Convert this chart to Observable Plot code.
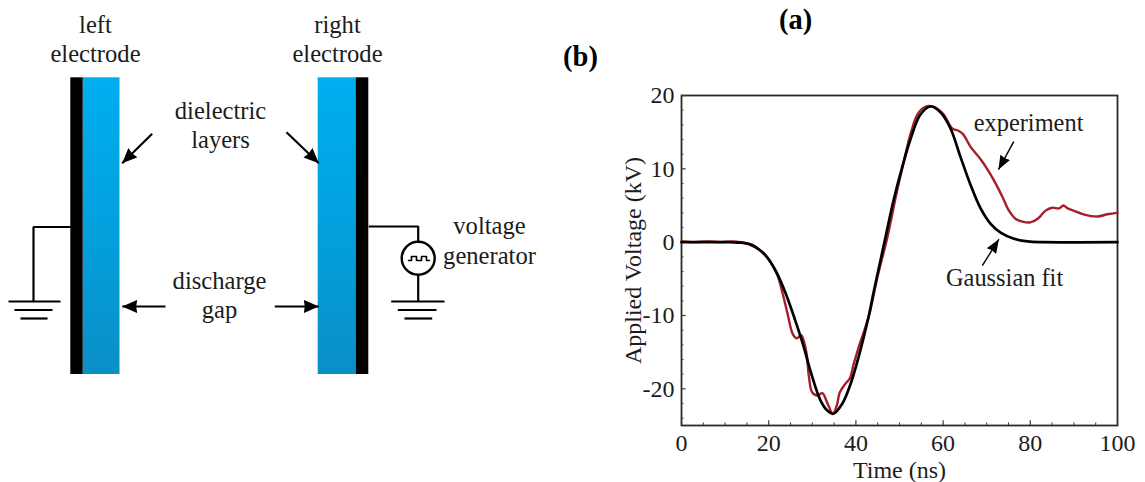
<!DOCTYPE html>
<html>
<head>
<meta charset="utf-8">
<script src="https://cdn.jsdelivr.net/npm/d3@7"></script>
<script src="https://cdn.jsdelivr.net/npm/@observablehq/plot@0.6"></script>
<style>
html,body{margin:0;padding:0;background:#fff;}
#wrap{display:flex;width:1145px;height:482px;overflow:hidden;}
svg{display:block;background:#fff;}
</style>
</head>
<body>
<div id="wrap"></div>
<script>
// ---------- chart (b) data ----------
const gaussianTime = [0,10,13,15.8,18,19.3,21.6,23.9,26.1,28,29.6,31.9,33.5,34.8,36.9,38.8,40.6,42.9,44,45.6,46.8,48.6,50.7,52.5,54.8,57.1,59.4,61.7,64,66.3,68.6,70.9,73.2,76.1,79.4,83,100];
const gaussianVolt = [0,0,-0.05,-0.3,-1.1,-1.8,-3.9,-7,-10.7,-14.2,-17.6,-21.6,-23,-23.4,-22,-19.3,-15.7,-10.2,-7,-2.6,0.7,5.6,10.4,14,17.4,18.5,17.7,15.5,11.6,7.8,4.6,2.5,1.3,0.5,0.1,0,0];
const experimentTime = [0,3,6,9,12,15,18,20.4,22,23.2,24.3,25.5,26.4,27.5,28,28.7,29.2,30,31.2,32.3,33.5,34.7,35.6,36.3,37.6,38.6,39.5,40.6,43,45,47.2,49.3,51,52.5,54.2,56,57.6,60,62.1,63.5,64.6,66.3,68.6,70.2,71.6,73.6,75,76.6,78.2,80,81.7,83.5,85,86.6,87.6,88.6,89.9,92.2,95.4,97.7,100];
const experimentVolt = [0.1,0,0.1,0,0.1,-0.2,-1.1,-2.7,-4.5,-7,-9.7,-12.5,-13.1,-12.7,-13.4,-15.2,-18.2,-20.5,-20.9,-20.6,-22,-23.4,-22.3,-20.5,-19.3,-18.6,-16.6,-14.4,-10,-4.6,0.6,6.6,11,14.7,17.5,18.5,18.5,17.5,15.5,15.2,14.7,13,11.3,9.9,8.5,6.2,4.4,3.2,2.8,2.7,3.2,4.3,4.7,4.6,5,4.6,4.3,3.8,3.5,3.8,4];
const xMajor = [0,20,40,60,80,100];
const xMinor = [5,10,15,25,30,35,45,50,55,65,70,75,85,90,95];
const yMajor = [-20,-10,0,10,20];
const yMinor = [-24,-22,-18,-16,-14,-12,-8,-6,-4,-2,2,4,6,8,12,14,16,18];
const chartNotes = [
  {t:"experiment", x:79.6, y:15.1},
  {t:"Gaussian fit", x:74.1, y:-6}
];
const chartArrows = [
  {x1:76.2, y1:13.7, x2:72.7, y2:9.9},
  {x1:69, y1:-3.2, x2:72.8, y2:0.4}
];
const panelA = [{t:"(a)", x:26.2, y:29.1}];

// ---------- schematic (a) geometry, in diagram units ----------
const electrodes = [{x1:70.3,x2:82.7},{x1:355.7,x2:368.3}];
const layers = [{x1:82.7,x2:119.5},{x1:317.7,x2:355.7}];
const slabTop = 77.3, slabBottom = 374;
const wires = [
  {k:"l",p:[[70.3,226.5],[33,226.5],[33,301]]},
  {k:"r",p:[[368.3,226],[417.7,226],[417.7,240.5]]},
  {k:"r2",p:[[417.7,275],[417.7,301]]},
  {k:"g1",p:[[8,301],[60,301]]},
  {k:"g2",p:[[14,309.5],[52,309.5]]},
  {k:"g3",p:[[20,318],[47,318]]},
  {k:"g4",p:[[390.7,301],[444,301]]},
  {k:"g5",p:[[397.3,309.5],[436,309.5]]},
  {k:"g6",p:[[404,318],[431.7,318]]}
];
const pulse = [[408,260],[411,260],[411,256],[416,256],[416,260],[421,260],[421,256],[426,256],[426,260],[429,260]];
const generator = [{x:417.7,y:257.7}];
const schematicArrows = [
  {x1:151.7,y1:133.3,x2:121.7,y2:162.7},
  {x1:165,y1:306,x2:121.7,y2:306},
  {x1:286,y1:131.7,x2:318.3,y2:162.7},
  {x1:274.3,y1:306,x2:318.3,y2:306}
];
const labels = [
  {t:"left",x:95,y:32},{t:"electrode",x:95,y:61},
  {t:"right",x:337,y:32},{t:"electrode",x:337,y:61},
  {t:"dielectric",x:220,y:118},{t:"layers",x:220,y:147},
  {t:"discharge",x:219,y:288},{t:"gap",x:219,y:317},
  {t:"voltage",x:489,y:233},{t:"generator",x:489,y:263}
];
const panelB = [{t:"(b)",x:580,y:65}];

// ---------- helpers ----------
const serif = "Liberation Serif";
const ink = "#1c1c1c";
const wireRows = wires.flatMap(w => w.p.map(([x,y]) => ({k:w.k,x,y})));
const pulseRows = pulse.map(([x,y]) => ({x,y}));
function arrowHead(size, half, notch) {
  return () => {
    const id = "ah" + Math.random().toString(36).slice(2,9);
    const m = document.createElementNS("http://www.w3.org/2000/svg","marker");
    m.setAttribute("id", id);
    m.setAttribute("viewBox", `${-size} ${-half} ${size} ${2*half}`);
    m.setAttribute("markerUnits","userSpaceOnUse");
    m.setAttribute("markerWidth", size);
    m.setAttribute("markerHeight", 2*half);
    m.setAttribute("refX", 0);
    m.setAttribute("refY", 0);
    m.setAttribute("orient","auto");
    const p = document.createElementNS("http://www.w3.org/2000/svg","path");
    p.setAttribute("d", `M0,0L${-size},${-half}L${-size+notch},0L${-size},${half}Z`);
    p.setAttribute("fill", "#000");
    p.setAttribute("stroke", "none");
    m.appendChild(p);
    return m;
  };
}
const gradientDef = () => {
  const s = d3.create("svg:defs");
  const g = s.append("linearGradient").attr("id","slab").attr("x1",0).attr("x2",0).attr("y1",0).attr("y2",1);
  g.append("stop").attr("offset","0%").attr("stop-color","#00aeef");
  g.append("stop").attr("offset","55%").attr("stop-color","#029fdc");
  g.append("stop").attr("offset","100%").attr("stop-color","#0b8ec6");
  return s.node();
};

// ---------- schematic ----------
const schematic = Plot.plot({
  width:605, height:482, margin:0,
  x:{domain:[0,605],range:[0,605],axis:null},
  y:{domain:[0,482],range:[0,482],axis:null},
  marks:[
    gradientDef,
    Plot.rect(layers,{x1:"x1",x2:"x2",y1:()=>slabTop,y2:()=>slabBottom,fill:"url(#slab)"}),
    Plot.rect(electrodes,{x1:"x1",x2:"x2",y1:()=>slabTop,y2:()=>slabBottom,fill:"#000"}),
    Plot.line(wireRows,{x:"x",y:"y",z:"k",stroke:"#000",strokeWidth:2.2,curve:"linear",strokeLinecap:"butt",strokeLinejoin:"miter"}),
    Plot.dot(generator,{x:"x",y:"y",r:16.5,stroke:"#000",strokeWidth:2.4,fill:"#fff"}),
    Plot.line(pulseRows,{x:"x",y:"y",stroke:"#000",strokeWidth:1.6,curve:"linear"}),
    Plot.link(schematicArrows,{x1:"x1",y1:"y1",x2:"x2",y2:"y2",stroke:"#000",strokeWidth:2.2,curve:"linear",markerEnd:arrowHead(15,6.5,1)}),
    Plot.text(labels,{x:"x",y:"y",text:"t",fontFamily:serif,fontSize:24.6,lineAnchor:"bottom",textAnchor:"middle",fill:ink}),
    Plot.text(panelB,{x:"x",y:"y",text:"t",fontFamily:serif,fontSize:28.5,fontWeight:"bold",lineAnchor:"bottom",textAnchor:"middle",fill:"#000"})
  ]
});

// ---------- chart ----------
const gaussian = gaussianTime.map((t,i) => ({t,v:gaussianVolt[i]}));
const experiment = experimentTime.map((t,i) => ({t,v:experimentVolt[i]}));
const chart = Plot.plot({
  width:540, height:482,
  marginLeft:76, marginRight:28, marginTop:95, marginBottom:57,
  x:{domain:[0,100],axis:null},
  y:{domain:[-25,20],axis:null},
  marks:[
    Plot.frame({stroke:"#2a2a2a",strokeWidth:1.8}),
    Plot.ruleX(xMajor,{y1:-25,y2:-24.35,stroke:"#3a3a3a",strokeWidth:1.2}),
    Plot.ruleX(xMinor,{y1:-25,y2:-24.65,stroke:"#3a3a3a",strokeWidth:1}),
    Plot.ruleY(yMajor,{x1:0,x2:1.08,stroke:"#3a3a3a",strokeWidth:1.2}),
    Plot.ruleY(yMinor,{x1:0,x2:0.57,stroke:"#3a3a3a",strokeWidth:1}),
    Plot.axisX({ticks:xMajor,tickSize:0,tickPadding:8,tickFormat:String,fontSize:24,fontFamily:serif,color:ink,label:"Time (ns)",labelAnchor:"center",labelArrow:"none",labelOffset:52}),
    Plot.axisY({ticks:yMajor,tickSize:0,tickPadding:7,tickFormat:String,fontSize:24,fontFamily:serif,color:ink,label:"Applied Voltage (kV)",labelAnchor:"center",labelArrow:"none",labelOffset:58}),
    Plot.line(experiment,{x:"t",y:"v",stroke:"#a51f2b",strokeWidth:2.4,curve:"catmull-rom"}),
    Plot.line(gaussian,{x:"t",y:"v",stroke:"#000",strokeWidth:2.7,curve:"catmull-rom"}),
    Plot.link(chartArrows,{x1:"x1",y1:"y1",x2:"x2",y2:"y2",stroke:"#000",strokeWidth:1.4,curve:"linear",markerEnd:arrowHead(14,5.5,1)}),
    Plot.text(chartNotes,{x:"x",y:"y",text:"t",fontFamily:serif,fontSize:24.4,lineAnchor:"bottom",textAnchor:"middle",fill:ink}),
    Plot.text(panelA,{x:"x",y:"y",text:"t",fontFamily:serif,fontSize:28.5,fontWeight:"bold",lineAnchor:"bottom",textAnchor:"middle",fill:"#000"})
  ]
});
document.getElementById("wrap").append(schematic, chart);
</script>
</body>
</html>
